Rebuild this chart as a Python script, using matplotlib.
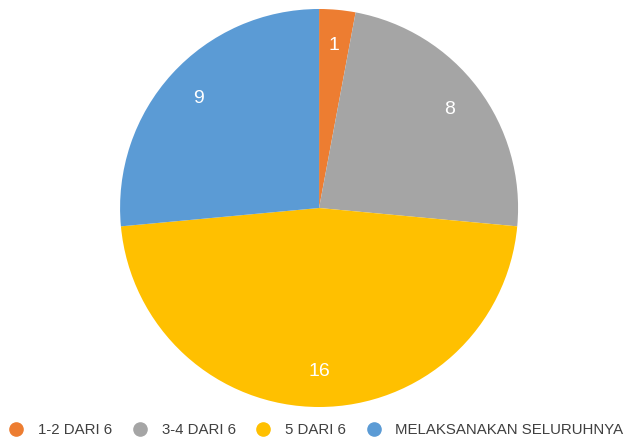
import matplotlib.pyplot as plt
from matplotlib.lines import Line2D

labels = ["1-2 DARI 6", "3-4 DARI 6", "5 DARI 6", "MELAKSANAKAN SELURUHNYA"]
values = [1, 8, 16, 9]
colors = ["#ED7D31", "#A5A5A5", "#FFC000", "#5B9BD5"]

plt.rcParams['font.family'] = ['Liberation Sans', 'DejaVu Sans']

fig = plt.figure(figsize=(6.26, 4.41), dpi=100)
ax = fig.add_axes([0.1917, 0.0771, 0.636, 0.9025])

wedges, texts = ax.pie(values, colors=colors, startangle=90, counterclock=False,
                       labels=[str(v) for v in values], labeldistance=0.82,
                       textprops=dict(color="white", fontsize=14, ha="center", va="center"))
ax.set_xlim(-1, 1)
ax.set_ylim(-1, 1)
ax.set_aspect("equal")

handles = [Line2D([], [], marker="o", linestyle="", markersize=9.5,
                  markerfacecolor=c, markeredgecolor=c) for c in colors]
fig.legend(handles, labels, loc="center", bbox_to_anchor=(0.505, 0.025), ncol=4,
           frameon=False, fontsize=10.8, handlelength=1.0, handletextpad=0.95,
           columnspacing=1.35, labelcolor="#404040", borderpad=0, borderaxespad=0)

fig.savefig("out.png", dpi=100)
